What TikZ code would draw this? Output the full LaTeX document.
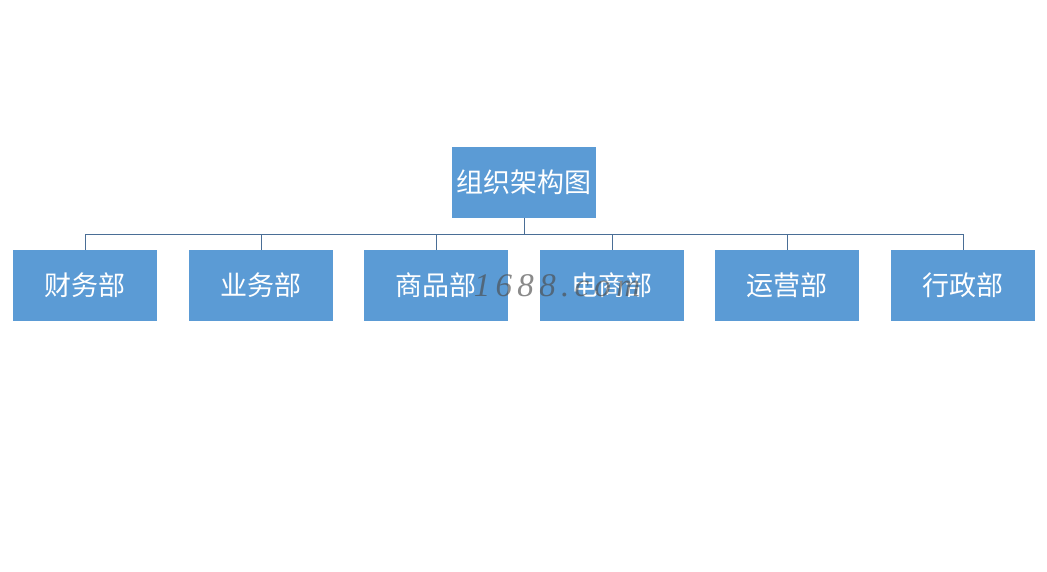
\documentclass[tikz,border=0pt]{standalone}
\usepackage{fontspec}
\newfontfamily\cjk{Noto Sans CJK SC}
\newfontfamily\wmfont[LetterSpace=16]{Liberation Serif}
\definecolor{boxblue}{HTML}{5B9BD5}
\definecolor{linecol}{HTML}{4A6E96}
\begin{document}
\begin{tikzpicture}[x=1pt,y=1pt,
  orgbox/.style={fill=boxblue, draw=none, minimum width=144pt, minimum height=71pt, inner sep=0pt, text=white, font=\cjk\fontsize{27}{31}\selectfont},
  conn/.style={draw=linecol, line width=0.7pt}]
\useasboundingbox (0,0) rectangle (1047,572);
\fill[white] (0,0) rectangle (1047,572);
\node[orgbox] (top) at (524,389.5) {组织架构图};
\node[orgbox] (c1) at (85,286.5) {财务部};
\node[orgbox] (c2) at (261,286.5) {业务部};
\node[orgbox] (c3) at (436,286.5) {商品部};
\node[orgbox] (c4) at (612,286.5) {电商部};
\node[orgbox] (c5) at (787,286.5) {运营部};
\node[orgbox] (c6) at (963,286.5) {行政部};
\coordinate (bus) at (524,338);
\draw[conn] (top.south) -- (bus);
\foreach \c in {c1,c2,c3,c4,c5,c6}{
  \draw[conn] (\c.north) -- (\c.north |- bus);
}
\draw[conn] (c1.north |- bus) -- (c6.north |- bus);
\node[text=black!70, opacity=0.65, font=\wmfont\itshape\fontsize{33}{36}\selectfont] (wm) at (557,286) {1688.com};
\end{tikzpicture}
\end{document}
